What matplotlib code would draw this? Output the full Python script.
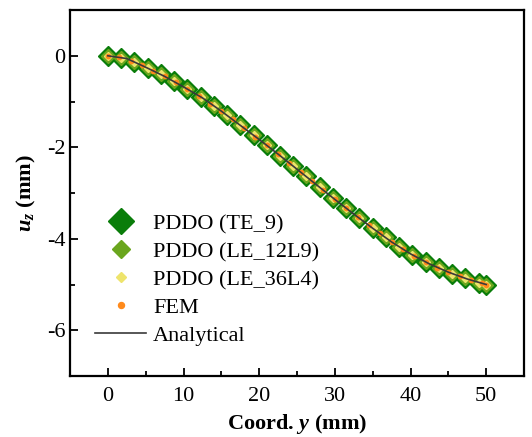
import matplotlib
matplotlib.use("Agg")
import matplotlib.pyplot as plt
from matplotlib.ticker import MultipleLocator

plt.rcParams['font.family'] = ['Liberation Serif', 'DejaVu Serif']
plt.rcParams['mathtext.fontset'] = 'custom'
plt.rcParams['mathtext.rm'] = 'Liberation Serif'
plt.rcParams['mathtext.it'] = 'Liberation Serif:italic'
plt.rcParams['mathtext.bf'] = 'Liberation Serif:bold'
plt.rcParams['mathtext.bfit'] = 'Liberation Serif:bold:italic'
plt.rcParams['axes.unicode_minus'] = False

# PDDO node coordinates (mm) and displacement (mm)
pddo_y = [0, 1.75, 3.5, 5.25, 7.0, 8.75, 10.5, 12.25, 14.0, 15.75, 17.5, 19.25,
          21.0, 22.75, 24.5, 26.25, 28.0, 29.75, 31.5, 33.25, 35.0, 36.75, 38.5,
          40.25, 42.0, 43.75, 45.5, 47.25, 49.0, 50.0]
te9_uz = [0, -0.04, -0.14, -0.27, -0.40, -0.55, -0.73, -0.90, -1.10, -1.30, -1.52,
          -1.74, -1.96, -2.18, -2.41, -2.63, -2.87, -3.10, -3.33, -3.55, -3.76,
          -3.97, -4.17, -4.35, -4.51, -4.64, -4.76, -4.86, -4.96, -5.00]
le12l9_uz = [0, -0.04, -0.14, -0.27, -0.40, -0.55, -0.73, -0.90, -1.10, -1.30, -1.52,
             -1.74, -1.96, -2.18, -2.41, -2.63, -2.87, -3.10, -3.33, -3.55, -3.76,
             -3.97, -4.17, -4.35, -4.51, -4.64, -4.76, -4.86, -4.96, -5.00]
le36l4_uz = [0, -0.04, -0.14, -0.27, -0.40, -0.55, -0.73, -0.90, -1.10, -1.30, -1.52,
             -1.74, -1.96, -2.18, -2.41, -2.63, -2.87, -3.10, -3.33, -3.55, -3.76,
             -3.97, -4.17, -4.35, -4.51, -4.64, -4.76, -4.86, -4.96, -5.00]

# FEM
fem_y = [0, 1.5, 3.0, 4.5, 6.0, 7.5, 9.0, 10.5, 12.0, 13.5, 15.0, 16.5, 18.0, 19.5,
         21.0, 22.5, 24.0, 25.5, 27.0, 28.5, 30.0, 31.5, 33.0, 34.5, 36.0, 37.5,
         39.0, 40.5, 42.0, 43.5, 45.0, 46.5, 48.0, 49.5, 50.0]
fem_uz = [0, -0.03, -0.11, -0.21, -0.33, -0.45, -0.58, -0.73, -0.88, -1.05, -1.21,
          -1.39, -1.58, -1.77, -1.96, -2.15, -2.35, -2.54, -2.73, -2.93, -3.13,
          -3.33, -3.52, -3.70, -3.88, -4.06, -4.22, -4.37, -4.51, -4.63, -4.73,
          -4.82, -4.90, -4.97, -5.00]

# Analytical
ana_y = [0, 2.5, 5, 7.5, 10, 12.5, 15, 17.5, 20, 22.5, 25, 27.5, 30, 32.5, 35,
         37.5, 40, 42.5, 45, 47.5, 50]
ana_uz = [0, -0.06, -0.25, -0.45, -0.68, -0.92, -1.21, -1.52, -1.83, -2.15, -2.48,
          -2.81, -3.14, -3.46, -3.77, -4.07, -4.33, -4.55, -4.73, -4.88, -5.00]

fig = plt.figure(figsize=(5.32, 4.37), dpi=100)
ax = fig.add_axes([0.1316, 0.1396, 0.8534, 0.8374])

ax.plot(pddo_y, te9_uz, linestyle='none', marker='D', markersize=10,
        color='#0a7d0a', label='PDDO (TE_9)', zorder=3)
ax.plot(pddo_y, le12l9_uz, linestyle='none', marker='D', markersize=7,
        color='#6aa61e', label='PDDO (LE_12L9)', zorder=4)
ax.plot(pddo_y, le36l4_uz, linestyle='none', marker='D', markersize=4,
        color='#eee46c', label='PDDO (LE_36L4)', zorder=5)
ax.plot(fem_y, fem_uz, linestyle='none', marker='o', markersize=3.2,
        color='#ff8a1c', label='FEM', zorder=6)
ax.plot(ana_y, ana_uz, color='#3a3a3a', linewidth=1.2, label='Analytical', zorder=7)

ax.set_xlim(-5, 55)
ax.set_ylim(-7, 1)
ax.xaxis.set_major_locator(MultipleLocator(10))
ax.xaxis.set_minor_locator(MultipleLocator(5))
ax.yaxis.set_major_locator(MultipleLocator(2))
ax.yaxis.set_minor_locator(MultipleLocator(1))
ax.tick_params(which='both', direction='in', labelsize=16, width=1.3)
ax.tick_params(which='major', length=6)
ax.tick_params(which='minor', length=3.5)
ax.tick_params(axis='x', pad=8)
for s in ax.spines.values():
    s.set_linewidth(1.6)

ax.set_xlabel(r'Coord. $\mathbfit{y}$ (mm)', fontsize=16, fontweight='bold', labelpad=4)
ax.set_ylabel(r'$\mathbfit{u}_\mathbfit{z}$ (mm)', fontsize=16, fontweight='bold', labelpad=6)

leg = ax.legend(loc='upper left', bbox_to_anchor=(0.026, 0.48), frameon=False,
                fontsize=16, markerscale=1.35, labelspacing=0.33,
                handlelength=2.3, handletextpad=0.3, borderaxespad=0.2)

fig.savefig('out.png', dpi=100)
